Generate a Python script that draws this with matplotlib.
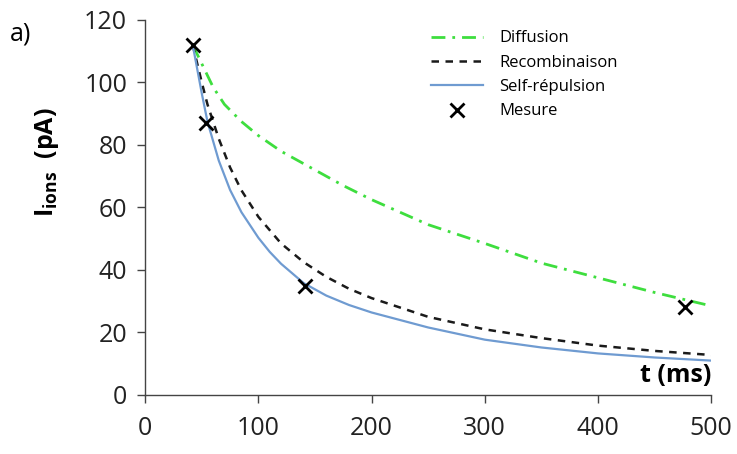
import numpy as np
import matplotlib.pyplot as plt

plt.rcParams['font.family'] = ['Open Sans', 'DejaVu Sans']
plt.rcParams['mathtext.fontset'] = 'custom'
plt.rcParams['mathtext.rm'] = 'Open Sans'
plt.rcParams['mathtext.bf'] = 'Open Sans:bold'

# curves (t in ms, current in pA)
t_diff = [42, 50, 60, 70, 85, 100, 120, 150, 175, 200, 250, 300, 350, 400, 450, 500]
i_diff = [112, 106, 98.5, 93, 87.5, 83, 78, 72, 67, 62.5, 54.5, 48.5, 42.2, 37.5, 32.8, 28.5]

t_recomb = [42, 50, 55, 65, 75, 85, 100, 120, 140, 160, 180, 200, 250, 300, 350, 400, 450, 500]
i_recomb = [112, 100, 93, 82, 72.8, 65.5, 57, 48.5, 42.5, 37.8, 34, 31, 25, 21, 18.2, 15.8, 14.1, 12.8]

t_self = [42, 50, 55, 65, 75, 85, 100, 110, 120, 140, 160, 180, 200, 250, 300, 350, 400, 450, 500]
i_self = [112, 96.5, 87.5, 75, 65.6, 58.5, 50.3, 45.8, 42.0, 35.8, 31.8, 28.8, 26.4, 21.6, 17.7, 15.2, 13.3, 12.0, 11.0]

t_mes = [42, 54, 141, 477]
i_mes = [112, 87, 35, 28]

fig = plt.figure(figsize=(7.37, 4.54), dpi=100)
ax = fig.add_axes([0.197, 0.130, 0.768, 0.826])

ax.plot(t_diff, i_diff, color='#3ede3e', lw=2, dashes=[5, 2.5, 1, 2.5], label='Diffusion')
ax.plot(t_recomb, i_recomb, color='#1a1a1a', lw=1.8, dashes=[3, 2.6], label='Recombinaison')
ax.plot(t_self, i_self, color='#6f9bd1', lw=1.6, label='Self-répulsion')
ax.plot(t_mes, i_mes, 'x', color='black', ms=10, mew=2, label='Mesure')

ax.set_xlim(0, 500)
ax.set_ylim(0, 120)
ax.set_xticks(np.arange(0, 501, 100))
ax.set_yticks(np.arange(0, 121, 20))
for s in ['top', 'right']:
    ax.spines[s].set_visible(False)
for s in ['left', 'bottom']:
    ax.spines[s].set_color('#444444')
    ax.spines[s].set_linewidth(1.0)
ax.tick_params(direction='out', length=6, width=1, color='#444444',
               labelsize=18, labelcolor='#222222')
ax.tick_params(axis='x', pad=9)
ax.tick_params(axis='y', pad=7)

ax.set_ylabel(r'$\mathbf{I}_{\mathbf{ions}}$  (pA)', fontsize=18, fontweight='bold')
ax.yaxis.set_label_coords(-0.148, 0.62)
ax.text(500, 2.3, 't (ms)', ha='right', va='bottom', fontsize=18, fontweight='bold')
fig.text(0.013, 0.91, 'a)', fontsize=18)

ax.legend(loc='upper left', bbox_to_anchor=(0.505, 0.972), frameon=False,
          fontsize=12, handlelength=3.1, labelspacing=0.5, handletextpad=1.0,
          borderpad=0, borderaxespad=0)

fig.savefig('out.png', dpi=100)
